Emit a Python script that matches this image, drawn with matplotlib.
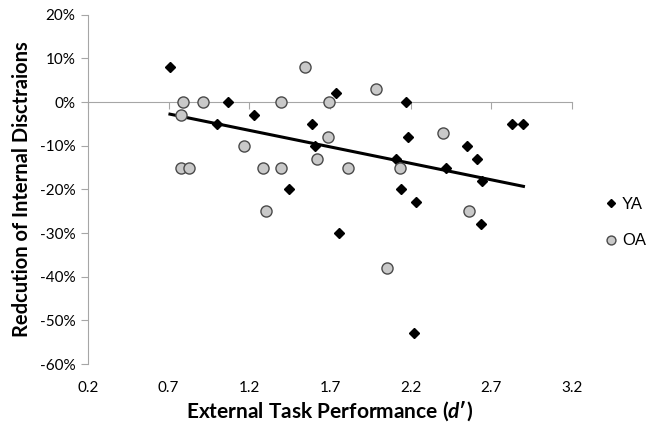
import numpy as np
import matplotlib
matplotlib.use("Agg")
import matplotlib.pyplot as plt
from matplotlib.ticker import FuncFormatter

plt.rcParams['font.family'] = ['Lato', 'DejaVu Sans']
plt.rcParams['mathtext.fontset'] = 'custom'
plt.rcParams['mathtext.bfit'] = 'Lato:italic:bold'
plt.rcParams['mathtext.it'] = 'Lato:italic'
plt.rcParams['mathtext.rm'] = 'Lato'
plt.rcParams['mathtext.bf'] = 'Lato:bold'

# Young adults (YA)
ya_x = [0.708, 1.066, 1.002, 1.229, 1.588, 1.735, 1.609, 1.444, 2.171, 2.186, 2.831,
        2.899, 2.549, 2.611, 2.109, 2.419, 2.640, 2.143, 2.231, 2.636, 1.754, 2.221]
ya_y = [8, 0, -5, -3, -5, 2, -10, -20, 0, -8, -5,
        -5, -10, -13, -13, -15, -18, -20, -23, -28, -30, -53]

# Older adults (OA)
oa_x = [0.787, 0.915, 0.779, 1.167, 0.779, 0.828, 1.287, 1.396, 1.394, 1.545,
        1.694, 1.686, 1.618, 1.810, 1.983, 2.399, 2.136, 1.301, 2.560, 2.053]
oa_y = [0, 0, -3, -10, -15, -15, -15, -15, 0, 8,
        0, -8, -13, -15, 3, -7, -15, -25, -25, -38]

x_ticks = [0.2, 0.7, 1.2, 1.7, 2.2, 2.7, 3.2]
y_ticks = [20, 10, 0, -10, -20, -30, -40, -50, -60]

fig = plt.figure(figsize=(6.51, 4.26), dpi=100)
ax = fig.add_axes([88/651, 1-364/426, (572-88)/651, (364-14.7)/426])

ax.plot(ya_x, ya_y, linestyle='none', marker='D', markersize=5.2, color='black',
        label='YA', zorder=3)
ax.plot(oa_x, oa_y, linestyle='none', marker='o', markersize=8, markerfacecolor='#c9c9c9',
        markeredgecolor='#4a4a4a', markeredgewidth=1, label='OA', zorder=3)

# linear trendline for YA
coef = np.polyfit(ya_x, ya_y, 1)
xs = np.array([min(ya_x), max(ya_x)])
ax.plot(xs, np.polyval(coef, xs), color='black', linewidth=2.2, zorder=2)

ax.set_xlim(0.2, 3.2)
ax.set_ylim(-60, 20)
ax.set_xticks(x_ticks)
ax.set_xticklabels([f"{t:.1f}" for t in x_ticks])
ax.set_yticks(y_ticks)
ax.yaxis.set_major_formatter(FuncFormatter(lambda v, p: f"{int(v)}%"))

grey = '#a6a6a6'
ax.spines['right'].set_visible(False)
ax.spines['bottom'].set_visible(False)
ax.spines['left'].set_color(grey)
ax.spines['top'].set_color(grey)
ax.spines['top'].set_position(('data', 0))
ax.tick_params(axis='x', bottom=False, top=True, labelbottom=True, labeltop=False,
               direction='in', length=5, color=grey, labelsize=11, pad=12)
ax.tick_params(axis='y', direction='out', length=5, color=grey, labelsize=11, pad=4)

ax.set_xlabel("External Task Performance ($\\mathbfit{d}$\u2032)", fontsize=15,
              fontweight='bold', labelpad=3)
ax.set_ylabel("Redcution of Internal Disctraions", fontsize=14.5, fontweight='bold',
              labelpad=6)

ax.legend(loc='center left', bbox_to_anchor=(1.05, 0.405), frameon=False,
          prop={'family': ['Liberation Sans', 'DejaVu Sans'], 'size': 12},
          handlelength=0.8, handletextpad=0.25, labelspacing=1.3, markerscale=0.8,
          borderpad=0)

fig.savefig("out.png", dpi=100)
